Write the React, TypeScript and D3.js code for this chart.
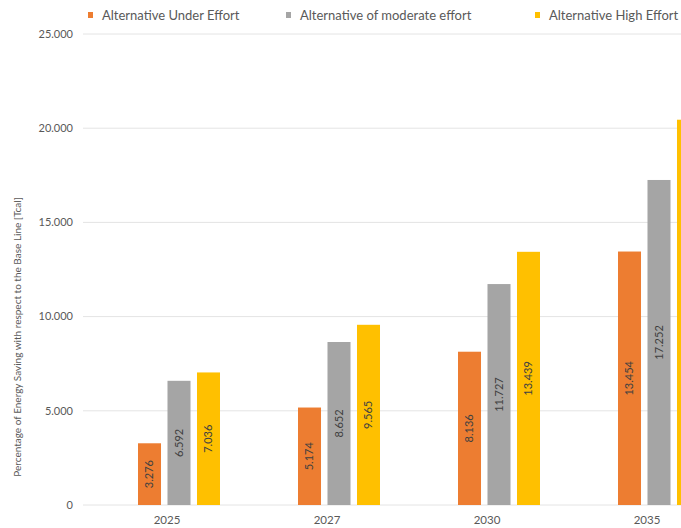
import React, { useEffect } from "react";
import * as d3 from "d3";

const categories = ["2025", "2027", "2030", "2035"];
const seriesNames = [
  "Alternative Under Effort",
  "Alternative of moderate effort",
  "Alternative High Effort",
];
const underEffort = [3276, 5174, 8136, 13454];
const moderateEffort = [6592, 8652, 11727, 17252];
const highEffort = [7036, 9565, 13439, 20450];
const yTicks = [0, 5000, 10000, 15000, 20000, 25000];
const colors = ["#ED7D31", "#A5A5A5", "#FFC000"];

const W = 681;
const H = 528;
const FONT = "Lato, 'Open Sans', sans-serif";

export default function App() {
  useEffect(() => {
    document.body.style.margin = "0";
  }, []);

  const series = [underEffort, moderateEffort, highEffort];
  const y = d3.scaleLinear().domain([0, 25000]).range([505, 34]);
  const x = d3.scaleBand().domain(categories).range([87, 727]);
  const inner = d3
    .scaleBand<number>()
    .domain([0, 1, 2])
    .range([-29, 53])
    .paddingInner(0.22)
    .paddingOuter(0);
  const fmt = (v: number) => d3.format(",")(v).replace(/,/g, ".");

  const legendX = [88, 286, 535];

  return (
    <svg width={W} height={H} style={{ display: "block", background: "#fff" }} fontFamily={FONT}>
      {yTicks.map((t) => (
        <g key={t}>
          <line x1={83} x2={W} y1={y(t)} y2={y(t)} stroke="#e4e4e4" strokeWidth={1} />
          <text x={73} y={y(t)} dy="0.35em" textAnchor="end" fontSize={11} fill="#595959">
            {fmt(t)}
          </text>
        </g>
      ))}
      {categories.map((c, ci) => {
        const cx = (x(c) as number) + x.bandwidth() / 2;
        return (
          <g key={c}>
            {series.map((s, si) => {
              const bx = cx + (inner(si) as number);
              const by = y(s[ci]);
              const bh = y(0) - by;
              const mx = bx + inner.bandwidth() / 2;
              const my = by + bh / 2;
              return (
                <g key={si}>
                  <rect x={bx} y={by} width={inner.bandwidth()} height={bh} fill={colors[si]} />
                  {mx + 8 < W && (
                    <text
                      transform={`translate(${mx},${my}) rotate(-90)`}
                      textAnchor="middle"
                      dy="0.35em"
                      fontSize={11}
                      fill="#404040"
                    >
                      {fmt(s[ci])}
                    </text>
                  )}
                </g>
              );
            })}
            <text x={cx} y={520} dy="0.35em" textAnchor="middle" fontSize={11.5} fill="#595959">
              {c}
            </text>
          </g>
        );
      })}
      <text
        transform={`translate(17,337) rotate(-90)`}
        textAnchor="middle"
        dy="0.35em"
        fontSize={10}
        fill="#595959"
      >
        Percentage of Energy Saving with respect to the Base Line [Tcal]
      </text>
      {seriesNames.map((n, i) => (
        <g key={n}>
          <rect x={legendX[i]} y={12} width={5} height={6} fill={colors[i]} />
          <text x={legendX[i] + 14} y={15} dy="0.35em" fontSize={13} fill="#595959">
            {n}
          </text>
        </g>
      ))}
    </svg>
  );
}
